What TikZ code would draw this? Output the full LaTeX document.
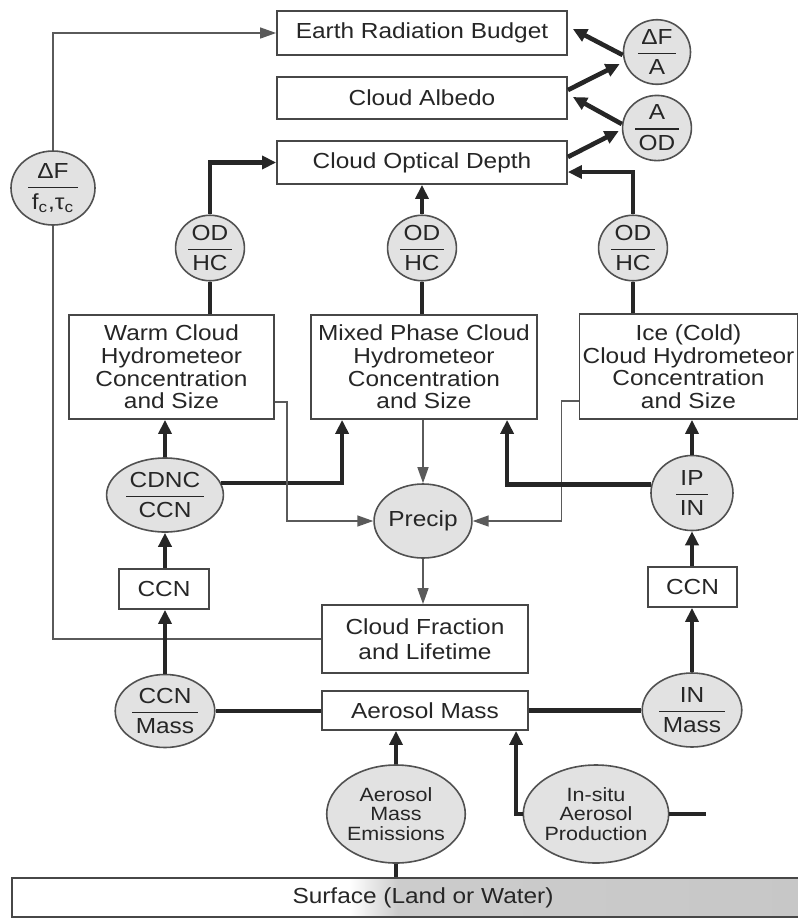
\documentclass[tikz,border=0pt]{standalone}
\usepackage{fontspec}
\usepackage{amsmath}
\setmainfont{Liberation Sans}[FakeStretch=1.12]
\usetikzlibrary{shapes.geometric,arrows.meta,calc}
\definecolor{ink}{HTML}{262626}
\definecolor{lineg}{HTML}{5A5A5A}
\definecolor{circfill}{HTML}{E2E2E2}
\newcommand\myfr[2]{$\genfrac{}{}{0.9pt}{0}{\text{\,#1\,}}{\text{\,#2\,}}$}
\pgfdeclarehorizontalshading{surfshade}{100bp}{color(0bp)=(white); color(45.5bp)=(white); color(48.5bp)=(black!20); color(100bp)=(black!24)}
\begin{document}
\begin{tikzpicture}[x=0.5pt,y=-0.5pt,
  font=\fontsize{10.9}{11.3}\selectfont,
  box/.style={draw=ink!85, line width=0.9pt, fill=white, text=ink, inner sep=0pt, align=center},
  circ/.style={ellipse, draw=ink!80, line width=0.8pt, fill=circfill, text=ink, inner sep=0pt, align=center},
  thk/.style={draw=ink, line width=2.3pt},
  thkarr/.style={thk, -{Triangle[length=7pt,width=6.5pt]}},
  thn/.style={draw=lineg, line width=0.75pt},
  thnarr/.style={thn, -{Triangle[length=8pt,width=5.5pt]}},
  small/.style={font=\fontsize{9.6}{9.6}\selectfont}
]
\useasboundingbox (0,0) rectangle (798,918);

% boxes
\node[box, minimum width=145pt, minimum height=22pt] (erb) at (422,33) {Earth Radiation Budget};
\node[box, minimum width=145pt, minimum height=21pt] (alb) at (422,98) {Cloud Albedo};
\node[box, minimum width=145pt, minimum height=21.5pt] (cod) at (422,162.5) {Cloud Optical Depth};
\node[box, minimum width=102.5pt, minimum height=52pt] (warm) at (171.5,367) {Warm Cloud\\Hydrometeor\\Concentration\\and Size};
\node[box, minimum width=113pt, minimum height=52pt] (mixed) at (424,367) {Mixed Phase Cloud\\Hydrometeor\\Concentration\\and Size};
\node[box, minimum width=109pt, minimum height=52.5pt] (ice) at (688.5,366.5) {Ice (Cold)\\Cloud Hydrometeor\\Concentration\\and Size};
\node[box, minimum width=45pt, minimum height=20pt] (ccnl) at (164,589) {CCN};
\node[box, minimum width=44.5pt, minimum height=20pt] (ccnr) at (692.5,587) {CCN};
\node[box, minimum width=103pt, minimum height=34pt] (cf) at (425,639) {Cloud Fraction\\[1.5pt]and Lifetime};
\node[box, minimum width=103pt, minimum height=19.5pt] (am) at (425,710.5) {Aerosol Mass};
\node[box, minimum width=411pt, minimum height=19.5pt, shading=surfshade] (surf) at (423,897.5) {Surface (Land or Water)};

% circles
\node[circ, minimum width=33.5pt, minimum height=30pt] (dfa) at (657,52) {\myfr{ΔF}{A}};
\node[circ, minimum width=33.5pt, minimum height=30pt] (aod) at (657,128) {\myfr{A}{OD}};
\node[circ, minimum width=42pt, minimum height=37pt] (dff) at (53,188) {\myfr{ΔF}{f$_\text{c}$,τ$_\text{c}$}};
\node[circ, minimum width=33pt, minimum height=29pt] (odhl) at (210,248) {\myfr{OD}{HC}};
\node[circ, minimum width=33pt, minimum height=29pt] (odhm) at (422,248) {\myfr{OD}{HC}};
\node[circ, minimum width=33pt, minimum height=29pt] (odhr) at (633,248) {\myfr{OD}{HC}};
\node[circ, minimum width=41.5pt, minimum height=37pt] (cdnc) at (165,495) {\myfr{CDNC}{CCN}};
\node[circ, minimum width=42pt, minimum height=37pt] (precip) at (423,521) {Precip};
\node[circ, minimum width=41pt, minimum height=37.5pt] (ipin) at (692,493) {\myfr{IP}{IN}};
\node[circ, minimum width=41.5pt, minimum height=36.5pt] (ccnm) at (165,711) {\myfr{CCN}{Mass}};
\node[circ, minimum width=40.5pt, minimum height=37pt] (inm) at (692,710) {\myfr{IN}{Mass}};
\node[circ, small, minimum width=56pt, minimum height=49pt] (ame) at (396,814) {Aerosol\\Mass\\Emissions};
\node[circ, small, minimum width=54pt, minimum height=49pt] (isp) at (596,814) {In-situ\\Aerosol\\Production};

% connectors
\draw[thnarr] (dff.north) |- (erb.west);
\draw[thn] (dff.south) |- (cf.west);
\draw[thkarr] ($(dfa.west)+(0,3)$) -- ($(erb.east)+(5,-4)$);
\draw[thkarr] ($(alb.east)+(0,-8)$) -- ($(dfa.west)+(-3,12)$);
\draw[thkarr] ($(aod.west)+(0,-4)$) -- ($(alb.east)+(5,-1)$);
\draw[thkarr] ($(cod.east)+(0,-5.5)$) -- ($(aod.west)+(-3,3)$);

\draw[thkarr] (odhl.north) |- (cod.west);
\draw[thkarr] (odhm.north) -- (cod.south);
\draw[thkarr] (odhr.north) |- ($(cod.east)+(0,9.5)$);
\draw[thk] (odhl.south) -- (odhl.south |- warm.north);
\draw[thk] (odhm.south) -- (odhm.south |- mixed.north);
\draw[thk] (odhr.south) -- (odhr.south |- ice.north);

\draw[thkarr] (cdnc.north) -- (cdnc.north |- warm.south);
\draw[thkarr] (cdnc.12) -| ($(mixed.south west)+(32,0)$);
\draw[thnarr] ($(warm.south east)+(0,-18)$) -- ++(12,0) |- (precip.west);
\draw[thnarr] (mixed.south -| precip.north) -- (precip.north);
\draw[thnarr] (precip.south) -- (precip.south |- cf.north);
\draw[thnarr] ($(ice.south west)+(0,-19)$) -- ++(-17,0) |- (precip.east);
\draw[thkarr] (ipin.168) -| ($(mixed.south west)+(197,0)$);
\draw[thkarr] (ipin.north) -- (ipin.north |- ice.south);

\draw[thkarr] (cdnc.south |- ccnl.north) -- (cdnc.south);
\draw[thkarr] (ccnr.north -| ipin.south) -- (ipin.south);
\draw[thkarr] (ccnm.north) -- (ccnm.north |- ccnl.south);
\draw[thkarr] (inm.north) -- (inm.north |- ccnr.south);
\draw[thk] (ccnm.east) -- (ccnm.east -| am.west);
\draw[thk] (am.east) -- (am.east -| inm.west);

\draw[thkarr] (ame.north) -- (ame.north |- am.south);
\draw[thk] (ame.south) -- (ame.south |- surf.north);
\draw[thkarr] (isp.west) -| ($(am.south west)+(195,0)$);
\coordinate (ispend) at ($(isp.east)+(37,0)$);
\draw[thk] (isp.east) -- (ispend);
\end{tikzpicture}
\end{document}
